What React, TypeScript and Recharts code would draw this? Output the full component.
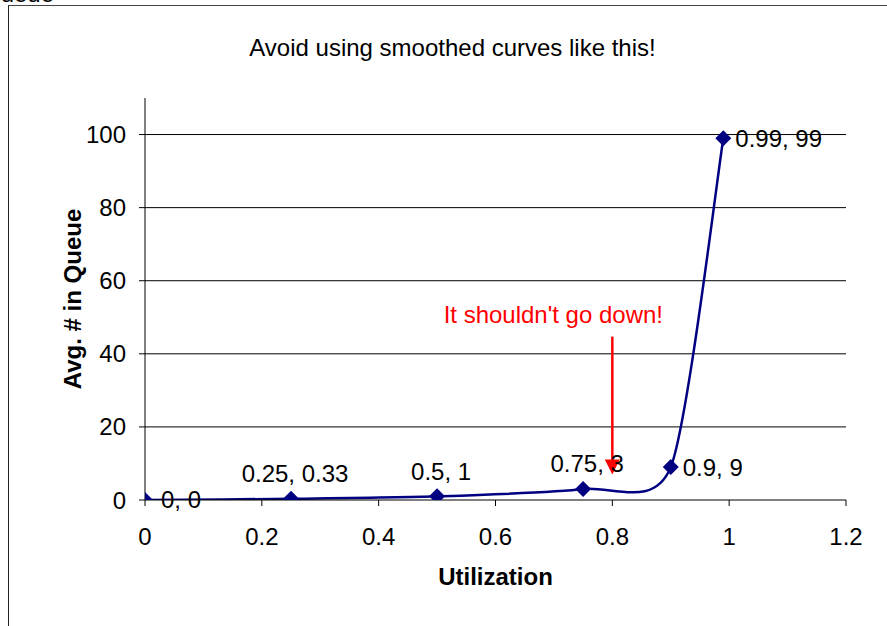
import React from "react";
import {
  CartesianGrid,
  ComposedChart,
  LabelList,
  Line,
  ReferenceLine,
  XAxis,
  YAxis,
} from "recharts";

const utilization = [0, 0.25, 0.5, 0.75, 0.9, 0.99];
const avgInQueue = [0, 0.33, 1, 3, 9, 99];
const xTicks = [0, 0.2, 0.4, 0.6, 0.8, 1, 1.2];
const yTicks = [0, 20, 40, 60, 80, 100];
const gridValues = [20, 40, 60, 80, 100];
const arrowFrom = { x: 0.8, y: 44.7 };
const arrowTo = { x: 0.8, y: 7 };

const data = utilization.map((x, i) => ({ x, y: avgInQueue[i] }));

const FONT = "'Liberation Sans', Arial, sans-serif";
const NAVY = "#000080";
const TENSION = 0.12;

// Excel-style smoothing (cardinal spline drawn as beziers), the thing the chart warns about
const excelSmooth = (context: any) => {
  let pts: number[][] = [];
  return {
    areaStart() {},
    areaEnd() {},
    lineStart() {
      pts = [];
    },
    lineEnd() {
      if (!pts.length) return;
      context.moveTo(pts[0][0], pts[0][1]);
      for (let i = 0; i < pts.length - 1; i++) {
        const p0 = pts[Math.max(i - 1, 0)];
        const p1 = pts[i];
        const p2 = pts[i + 1];
        const p3 = pts[Math.min(i + 2, pts.length - 1)];
        context.bezierCurveTo(
          p1[0] + (p2[0] - p0[0]) * TENSION,
          p1[1] + (p2[1] - p0[1]) * TENSION,
          p2[0] - (p3[0] - p1[0]) * TENSION,
          p2[1] - (p3[1] - p1[1]) * TENSION,
          p2[0],
          p2[1]
        );
      }
    },
    point(x: number, y: number) {
      pts.push([+x, +y]);
    },
  };
};

const Diamond = (props: any) => {
  const { cx, cy } = props;
  if (cx == null || cy == null) return null;
  const r = 8;
  return (
    <polygon
      points={`${cx},${cy - r} ${cx + r},${cy} ${cx},${cy + r} ${cx - r},${cy}`}
      fill={NAVY}
    />
  );
};

const PointLabel = (props: any) => {
  const { x, y, index } = props;
  const d = data[index];
  const text = `${d.x}, ${d.y}`;
  const onRight = index === 0 || index >= 4;
  if (onRight) {
    return (
      <text x={x + (index === 0 ? 16 : 12)} y={y} dy="0.35em" fontSize={24} fontFamily={FONT} fill="#000">
        {text}
      </text>
    );
  }
  return (
    <text x={x + 4} y={y - 25} dy="0.35em" textAnchor="middle" fontSize={24} fontFamily={FONT} fill="#000">
      {text}
    </text>
  );
};

const Arrow = (props: any) => {
  const { x1, y1, x2, y2 } = props;
  return (
    <g>
      <text x={x1 - 59} y={y1 - 14} textAnchor="middle" fontSize={24} fontFamily={FONT} fill="#ff0000">
        It shouldn't go down!
      </text>
      <line x1={x1} y1={y1} x2={x2} y2={y2 - 13} stroke="#ff0000" strokeWidth={2.5} />
      <polygon points={`${x2 - 7.5},${y2 - 15} ${x2 + 7.5},${y2 - 15} ${x2},${y2}`} fill="#ff0000" />
    </g>
  );
};

export default function App() {
  return (
    <div style={{ position: "absolute", left: 0, top: 0, width: 887, height: 626, overflow: "hidden", background: "#fff" }}>
      <div
        style={{
          position: "absolute",
          left: 8,
          top: 5,
          width: 1000,
          height: 1000,
          borderLeft: "1px solid #222",
          borderTop: "1px solid #444",
        }}
      />
      <div
        style={{
          position: "absolute",
          left: -18,
          top: -20,
          fontFamily: FONT,
          fontSize: 24,
          lineHeight: "28px",
        }}
      >
        Queue
      </div>
      <div
        style={{
          position: "absolute",
          left: 0,
          top: 34,
          width: 887,
          textAlign: "center",
          fontFamily: FONT,
          fontSize: 24,
          lineHeight: "28px",
          paddingLeft: 18,
          boxSizing: "border-box",
        }}
      >
        Avoid using smoothed curves like this!
      </div>
      <div style={{ position: "absolute", left: 0, top: 0 }}>
        <ComposedChart
          width={887}
          height={626}
          data={data}
          margin={{ top: 98, right: 41, left: 40, bottom: 0 }}
          style={{ fontFamily: FONT }}
        >
          <CartesianGrid
            horizontal
            vertical={false}
            horizontalValues={gridValues}
            stroke="#000"
            strokeWidth={1}
          />
          <XAxis
            type="number"
            dataKey="x"
            domain={[0, 1.2]}
            ticks={xTicks}
            allowDataOverflow
            stroke="#000"
            tickSize={6}
            tickMargin={22}
            height={126}
            tick={{ fontSize: 24, fill: "#000" }}
            label={{
              value: "Utilization",
              position: "insideTop",
              offset: 68,
              style: { fontSize: 24, fontWeight: "bold", fill: "#000" },
            }}
          />
          <YAxis
            type="number"
            domain={[0, 110]}
            ticks={yTicks}
            allowDataOverflow
            stroke="#000"
            tickSize={6}
            tickMargin={13}
            width={105}
            tick={{ fontSize: 24, fill: "#000" }}
            label={{
              value: "Avg. # in Queue",
              angle: -90,
              position: "insideLeft",
              offset: 32,
              style: { fontSize: 24, fontWeight: "bold", fill: "#000", textAnchor: "middle" },
            }}
          />
          <ReferenceLine
            segment={[arrowFrom, arrowTo]}
            stroke="#ff0000"
            shape={Arrow}
            ifOverflow="visible"
          />
          <Line
            dataKey="y"
            type={excelSmooth as any}
            stroke={NAVY}
            strokeWidth={2.5}
            dot={<Diamond />}
            activeDot={false}
            isAnimationActive={false}
          >
            <LabelList dataKey="y" content={<PointLabel />} />
          </Line>
        </ComposedChart>
      </div>
    </div>
  );
}
